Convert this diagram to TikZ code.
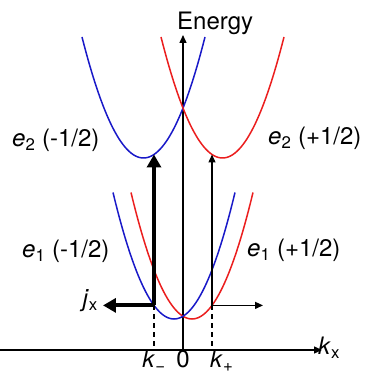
\documentclass[tikz,border=0pt]{standalone}
\usepackage{fontspec}
\setmainfont{TeX Gyre Heros}
\usetikzlibrary{arrows.meta}
\definecolor{bandblue}{RGB}{25,25,200}
\definecolor{bandred}{RGB}{235,30,30}

\begin{document}
\begin{tikzpicture}[x=1pt,y=1pt,
  lbl/.style={font=\fontsize{24}{28}\selectfont,inner sep=0pt},
  axis/.style={-{Triangle[length=8pt,width=7pt]},line width=1.4pt},
  band/.style={line width=1.5pt},
  thickarr/.style={-{Triangle[length=13pt,width=14pt]},line width=3.8pt},
  thinarr/.style={-{Triangle[length=8pt,width=7pt]},line width=1.3pt},
  guide/.style={dashed,dash pattern=on 5pt off 4pt,line width=1.1pt}
]
\useasboundingbox (-183,-27) rectangle (184,350);
% axes
\coordinate (o) at (0,0);
\coordinate (xend) at (139,0);
\coordinate (xbeg) at (-183,0);
\coordinate (yend) at (0,315);
\draw[axis] (xbeg) -- (xend);
\draw[axis] (o) -- (yend);
% lower bands e1
\draw[band,bandred] plot[domain=-61:61,samples=61] ({\x+9},{31+0.034*\x*\x});
\draw[band,bandblue] plot[domain=-61:61,samples=61] ({\x-9},{31+0.034*\x*\x});
% upper bands e2
\draw[band,bandblue] plot[domain=-61.5:61.5,samples=61] ({\x-39.5},{192+0.032*\x*\x});
\draw[band,bandred] plot[domain=-61.5:61.5,samples=61] ({\x+39.5},{192+0.032*\x*\x});
% transitions
\coordinate (lom) at (-29,44.6);
\coordinate (lop) at (29,44.6);
\coordinate (upm) at (-29,195.5);
\coordinate (upp) at (29,195.5);
\coordinate (km) at (-29,0);
\coordinate (kp) at (29,0);
\coordinate (jend) at (-80,44.6);
\coordinate (rend) at (80,44.6);
\draw[guide] (lom) -- (km);
\draw[guide] (lop) -- (kp);
\draw[thickarr] (lom) -- (upm);
\draw[thinarr] (lop) -- (upp);
\draw[thickarr] (lom) -- (jend);
\draw[thinarr] (lop) -- (rend);
% labels
\node[lbl,anchor=base west] (elab) at (-6,320) {Energy};
\node[lbl,anchor=base west] (kxlab) at (135,-5) {\textit{k}\textsubscript{x}};
\node[lbl,anchor=base] (kmlab) at (-29,-18) {\textit{k}\textsubscript{−}};
\node[lbl,anchor=base] (zlab) at (0,-18) {0};
\node[lbl,anchor=base west] (kplab) at (27,-18) {\textit{k}\textsubscript{+}};
\node[lbl,anchor=base east] (jlab) at (-85,43) {\textit{j}\textsubscript{x}};
\node[lbl,anchor=base west] (e2m) at (-171,203) {\textit{e}\textsubscript{2} (-1/2)};
\node[lbl,anchor=base west] (e2p) at (85,205) {\textit{e}\textsubscript{2} (+1/2)};
\node[lbl,anchor=base west] (e1m) at (-161,92) {\textit{e}\textsubscript{1} (-1/2)};
\node[lbl,anchor=base west] (e1p) at (64,93) {\textit{e}\textsubscript{1} (+1/2)};
\end{tikzpicture}
\end{document}
